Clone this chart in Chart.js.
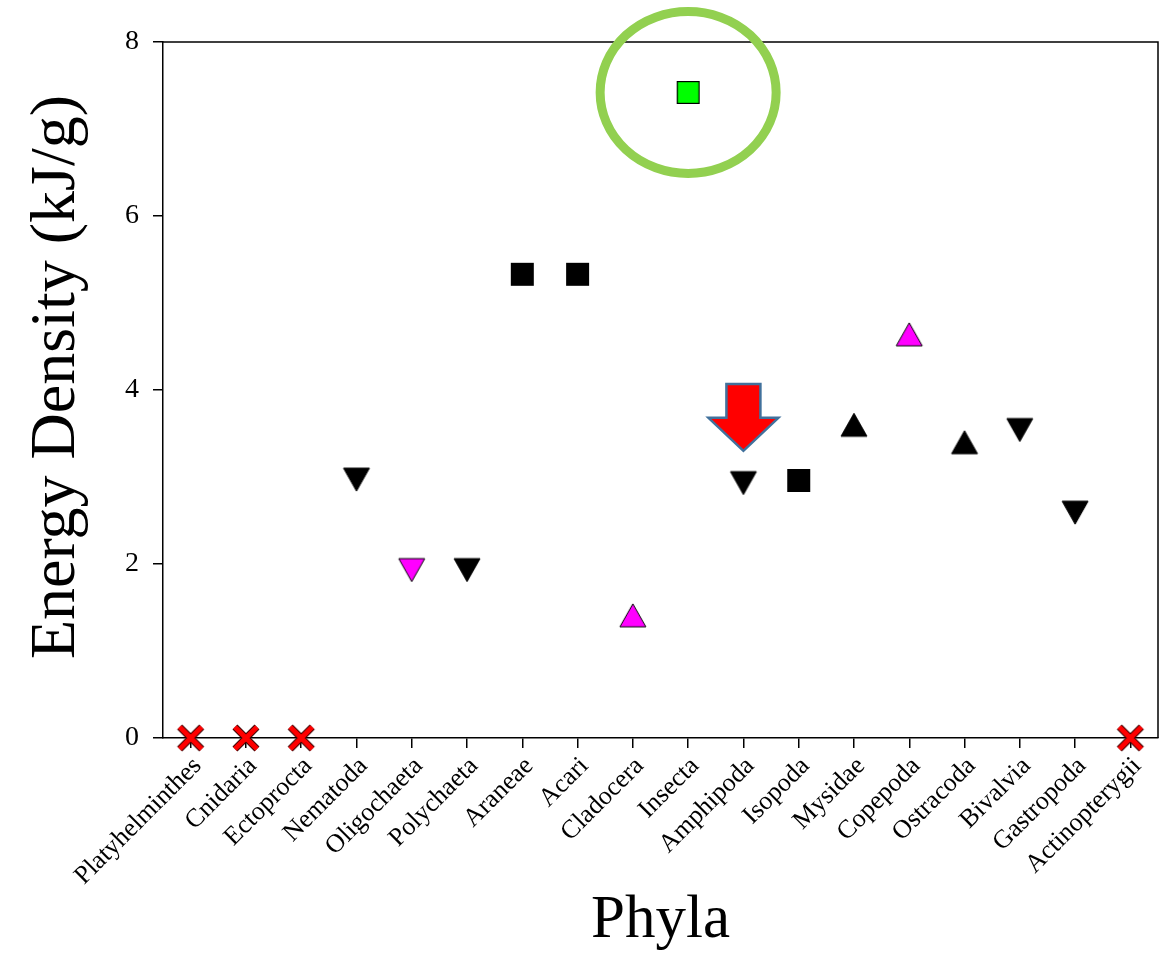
<!DOCTYPE html>
<html>
<head>
<meta charset="utf-8">
<script src="https://cdn.jsdelivr.net/npm/chart.js@4.4.1/dist/chart.umd.min.js"></script>
<style>
  html, body { margin: 0; padding: 0; background: #ffffff; }
  #wrap { width: 1160px; height: 953px; }
</style>
</head>
<body>
<div id="wrap"><canvas id="c" width="1160" height="953"></canvas></div>
<script>
// ---- data ----
const categories = ['Platyhelminthes','Cnidaria','Ectoprocta','Nematoda','Oligochaeta','Polychaeta',
  'Araneae','Acari','Cladocera','Insecta','Amphipoda','Isopoda','Mysidae','Copepoda','Ostracoda',
  'Bivalvia','Gastropoda','Actinopterygii'];
const energyDensity = [0, 0, 0, 2.97, 1.93, 1.93, 5.33, 5.33, 1.41, 7.42, 2.93, 2.96, 3.60, 4.64, 3.40, 3.54, 2.59, 0];
// marker group of each category
const markerGroup = ['absent','absent','absent','down','downPink','down','square','square','upPink',
  'highlight','down','square','up','upPink','up','down','down','absent'];
const yTicks = [0, 2, 4, 6, 8];
const yTitle = 'Energy Density (kJ/g)';
const xTitle = 'Phyla';
const highlightCategory = 'Insecta';
const arrowCategory = 'Amphipoda';

// ---- marker images ----
function makeMarker(shape, fill, stroke) {
  const pad = 4;
  let w = 26, h = 23;
  if (shape === 'square') { w = 23; h = 23; }
  if (shape === 'x') { w = 24; h = 24; }
  const c = document.createElement('canvas');
  c.width = w + 2 * pad; c.height = h + 2 * pad;
  const g = c.getContext('2d');
  g.translate(pad, pad);
  g.lineJoin = 'miter';
  if (shape === 'up' || shape === 'down') {
    g.beginPath();
    if (shape === 'up') { g.moveTo(w / 2, 0); g.lineTo(w, h); g.lineTo(0, h); }
    else { g.moveTo(0, 0); g.lineTo(w, 0); g.lineTo(w / 2, h); }
    g.closePath();
    g.fillStyle = fill; g.fill();
    g.lineWidth = 1; g.strokeStyle = stroke; g.stroke();
  } else if (shape === 'square') {
    g.fillStyle = fill; g.fillRect(0, 0, w, h);
    g.lineWidth = 1.2; g.strokeStyle = stroke; g.strokeRect(0.6, 0.6, w - 1.2, h - 1.2);
  } else if (shape === 'x') {
    g.lineCap = 'butt';
    g.beginPath(); g.moveTo(1, 1); g.lineTo(w - 1, h - 1); g.moveTo(w - 1, 1); g.lineTo(1, h - 1);
    g.strokeStyle = stroke; g.lineWidth = 7; g.stroke();
    g.strokeStyle = fill; g.lineWidth = 5; g.stroke();
  }
  return c;
}
const markerImages = {
  absent: makeMarker('x', '#ff0000', '#3a0000'),
  down: makeMarker('down', '#000000', '#000000'),
  downPink: makeMarker('down', '#ff00ff', '#000000'),
  up: makeMarker('up', '#000000', '#000000'),
  upPink: makeMarker('up', '#ff00ff', '#000000'),
  square: makeMarker('square', '#000000', '#000000'),
  highlight: makeMarker('square', '#00ff00', '#000000')
};

const groups = ['down','downPink','up','upPink','square','highlight','absent'];
const datasets = groups.map(gname => ({
  label: gname,
  data: energyDensity.map((v, i) => markerGroup[i] === gname ? v : null),
  showLine: false,
  pointStyle: markerImages[gname],
  pointRadius: 1,
  pointHoverRadius: 1,
  pointBorderWidth: 0,
  borderWidth: 0,
  clip: false,
  spanGaps: false
}));

const serif = "'Liberation Serif', 'Times New Roman', serif";

// ---- annotations: frame, y title, ellipse, arrow ----
const annotPlugin = {
  id: 'annot',
  afterDraw(chart) {
    const ctx = chart.ctx, a = chart.chartArea;
    const xs = chart.scales.x, ys = chart.scales.y;
    ctx.save();
    // top/right frame
    ctx.strokeStyle = '#000'; ctx.lineWidth = 1.5;
    ctx.beginPath();
    ctx.moveTo(a.left, a.top); ctx.lineTo(a.right, a.top); ctx.lineTo(a.right, a.bottom);
    ctx.stroke();
    // y axis title
    ctx.save();
    ctx.translate(74, 377);
    ctx.rotate(-Math.PI / 2);
    ctx.font = "64px " + serif;
    ctx.fillStyle = '#000';
    ctx.textAlign = 'center';
    ctx.textBaseline = 'alphabetic';
    ctx.fillText(yTitle, 0, 0);
    ctx.restore();
    // green ellipse around highlighted category
    const hi = categories.indexOf(highlightCategory);
    const ex = xs.getPixelForValue(hi), ey = ys.getPixelForValue(energyDensity[hi]);
    ctx.beginPath();
    ctx.ellipse(ex, ey, 88, 81, 0, 0, Math.PI * 2);
    ctx.strokeStyle = '#92d050'; ctx.lineWidth = 9; ctx.stroke();
    // red arrow above amphipoda
    const ai = categories.indexOf(arrowCategory);
    const ax = xs.getPixelForValue(ai);
    const top = ys.getPixelForValue(4.07), neck = ys.getPixelForValue(3.68), tip = ys.getPixelForValue(3.30);
    ctx.beginPath();
    ctx.moveTo(ax - 17, top); ctx.lineTo(ax + 17, top); ctx.lineTo(ax + 17, neck);
    ctx.lineTo(ax + 35, neck); ctx.lineTo(ax, tip); ctx.lineTo(ax - 35, neck);
    ctx.lineTo(ax - 17, neck); ctx.closePath();
    ctx.fillStyle = '#ff0000'; ctx.fill();
    ctx.strokeStyle = '#41719c'; ctx.lineWidth = 2.5; ctx.lineJoin = 'miter'; ctx.stroke();
    ctx.restore();
  }
};

new Chart(document.getElementById('c'), {
  type: 'line',
  data: { labels: categories, datasets },
  options: {
    responsive: false,
    animation: false,
    devicePixelRatio: 1,
    layout: { padding: { top: 42, right: 2, left: 0, bottom: 0 } },
    plugins: { legend: { display: false }, tooltip: { enabled: false } },
    scales: {
      x: {
        type: 'category',
        offset: true,
        grid: { display: true, drawOnChartArea: false, drawTicks: true, tickLength: 10, color: '#000', tickColor: '#000', tickWidth: 1.5, lineWidth: 1.5, offset: false },
        border: { display: true, color: '#000', width: 1.5 },
        ticks: { color: '#000', font: { family: serif, size: 26 }, maxRotation: 45, minRotation: 45, autoSkip: false, padding: 3, labelOffset: 7 },
        title: { display: true, text: xTitle, color: '#000', font: { family: serif, size: 61, lineHeight: 0.9 }, padding: { top: 0, bottom: 5 } },
        afterFit(s) { s.height = 215; s.paddingLeft = 0; s.paddingRight = 0; }
      },
      y: {
        min: 0, max: 8,
        afterBuildTicks(s) { s.ticks = yTicks.map(v => ({ value: v })); },
        grid: { display: true, drawOnChartArea: false, drawTicks: true, tickLength: 10, color: '#000', tickColor: '#000', tickWidth: 1.5, lineWidth: 1.5 },
        border: { display: true, color: '#000', width: 1.5 },
        ticks: { color: '#000', font: { family: serif, size: 28 }, padding: 14 },
        title: { display: false },
        afterFit(s) { s.width = 163; s.paddingTop = 0; s.paddingBottom = 0; }
      }
    }
  },
  plugins: [annotPlugin]
});
</script>
</body>
</html>
